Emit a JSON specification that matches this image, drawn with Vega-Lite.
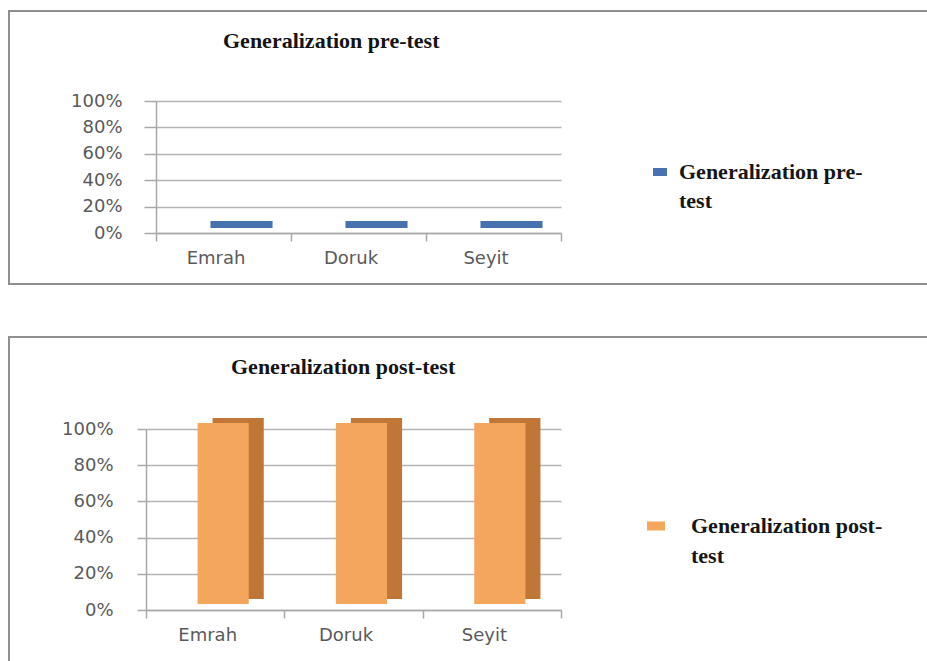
{
  "$schema": "https://vega.github.io/schema/vega-lite/v6.json",
  "padding": {"left": 8, "top": 10, "right": 0, "bottom": 0},
  "background": "white",
  "spacing": 51,
  "resolve": {"scale": {"color": "independent"}, "legend": {"color": "independent"}},
  "config": {
    "view": {"stroke": "#8f8f8f", "strokeWidth": 2},
    "axis": {
      "labelFont": "DejaVu Sans",
      "labelFontSize": 18,
      "labelColor": "#5a5a5a",
      "domainColor": "#a8a8a8",
      "domainWidth": 1.5,
      "tickColor": "#a8a8a8",
      "tickWidth": 1.5,
      "gridColor": "#b4b4b4",
      "gridWidth": 1.5,
      "title": null
    },
    "legend": {
      "labelFont": "Liberation Serif",
      "labelFontSize": 22,
      "labelFontWeight": "bold",
      "labelColor": "#161616",
      "labelLimit": 400
    }
  },
  "vconcat": [
    {
      "width": 925,
      "height": 273,
      "title": {"text": "Generalization pre-test", "anchor": "start", "dx": 214, "offset": -52, "baseline": "middle", "font": "Liberation Serif", "fontSize": 22, "fontWeight": "bold", "color": "#141414"},
      "data": {"values": [
        {"student": "Emrah", "series": "Generalization pre-test", "value": 0},
        {"student": "Doruk", "series": "Generalization pre-test", "value": 0},
        {"student": "Seyit", "series": "Generalization pre-test", "value": 0}
      ]},
      "mark": {"type": "bar", "xOffset": 18, "yOffset": -12, "y2Offset": -5, "width": {"band": 0.46}},
      "encoding": {
        "x": {"field": "student", "type": "nominal", "sort": ["Emrah", "Doruk", "Seyit"],
              "scale": {"range": [147, 552], "paddingInner": 0, "paddingOuter": 0},
              "axis": {"orient": "bottom", "offset": -51, "labelAngle": 0, "labelOffset": -8, "tickBand": "extent", "tickSize": 8, "labelPadding": 8, "grid": false}},
        "y": {"field": "value", "type": "quantitative", "stack": null,
              "scale": {"domain": [0, 1], "range": [222, 90]},
              "axis": {"orient": "left", "offset": -147, "values": [0, 0.2, 0.4, 0.6, 0.8, 1], "format": ".0%", "tickSize": 12, "labelPadding": 22, "grid": true}},
        "y2": {"datum": 0},
        "color": {"field": "series", "type": "nominal",
                  "scale": {"range": ["#4872ad"]},
                  "legend": {"orient": "none", "legendX": 640, "legendY": 150, "title": null,
                             "symbolType": "M-1,-0.57L1,-0.57L1,0.57L-1,0.57Z", "symbolSize": 196, "labelOffset": 8,
                             "labelExpr": "['Generalization pre-', 'test']",
                             "encode": {"labels": {"update": {"lineHeight": {"value": 29}}}}}}
      }
    },
    {
      "width": 925,
      "height": 335,
      "title": {"text": "Generalization post-test", "anchor": "start", "dx": 222, "offset": -52, "baseline": "middle", "font": "Liberation Serif", "fontSize": 22, "fontWeight": "bold", "color": "#141414"},
      "data": {"values": [
        {"student": "Emrah", "series": "Generalization post-test", "value": 1},
        {"student": "Doruk", "series": "Generalization post-test", "value": 1},
        {"student": "Seyit", "series": "Generalization post-test", "value": 1}
      ]},
      "encoding": {
        "x": {"field": "student", "type": "nominal", "sort": ["Emrah", "Doruk", "Seyit"],
              "scale": {"range": [137, 552], "paddingInner": 0, "paddingOuter": 0},
              "axis": {"orient": "bottom", "offset": -62, "labelAngle": 0, "labelOffset": -8, "tickBand": "extent", "tickSize": 8, "labelPadding": 8, "grid": false}},
        "y": {"field": "value", "type": "quantitative", "stack": null,
              "scale": {"domain": [0, 1], "range": [273, 92]},
              "axis": {"orient": "left", "offset": -137, "values": [0, 0.2, 0.4, 0.6, 0.8, 1], "format": ".0%", "tickSize": 9, "labelPadding": 24, "grid": true}},
        "y2": {"datum": 0}
      },
      "layer": [
        {"mark": {"type": "bar", "color": "#bf7637", "xOffset": 23, "yOffset": -11, "y2Offset": -11, "width": {"band": 0.37}}},
        {"mark": {"type": "bar", "xOffset": 8, "yOffset": -6, "y2Offset": -6, "width": {"band": 0.37}},
         "encoding": {
           "color": {"field": "series", "type": "nominal",
                     "scale": {"range": ["#f5a65d"]},
                     "legend": {"orient": "none", "legendX": 636, "legendY": 178, "title": null,
                                "symbolType": "M-1,-0.5L1,-0.5L1,0.5L-1,0.5Z", "symbolSize": 324, "labelOffset": 24,
                                "labelExpr": "['Generalization post-', 'test']",
                                "encode": {"labels": {"update": {"lineHeight": {"value": 30}}}}}}
         }}
      ]
    }
  ]
}
